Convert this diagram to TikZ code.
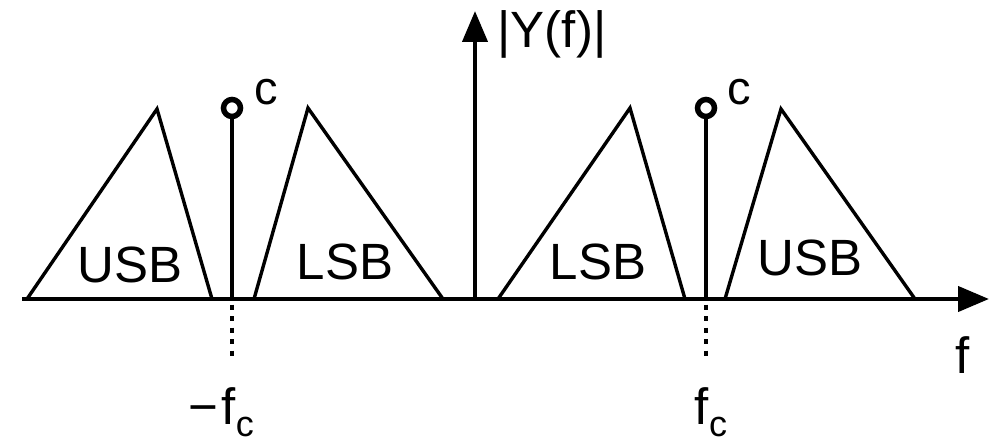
\documentclass[tikz,border=0pt]{standalone}
\usepackage{fontspec}
\setmainfont{Liberation Sans}
\usetikzlibrary{arrows.meta}
\begin{document}
\begin{tikzpicture}[x=1pt,y=-1pt,
  axis/.style={line width=4.2pt,-{Triangle[length=31pt,width=25pt]}},
  band/.style={line width=3.4pt,line join=miter},
  stem/.style={line width=4pt},
  carrier/.style={circle,draw,line width=5.5pt,minimum size=17pt,inner sep=0pt},
  dotline/.style={line width=4pt,dash pattern=on 5pt off 6.5pt},
  lbl/.style={inner sep=0pt,font=\fontsize{51}{60}\selectfont},
  clbl/.style={inner sep=0pt,font=\fontsize{47}{55}\selectfont}
]
\useasboundingbox (0,0) rectangle (989,444);
% axes
\coordinate (xs) at (22,299);
\coordinate (xe) at (989,299);
\coordinate (ys) at (475,299);
\coordinate (ye) at (475,11);
% sidebands
\coordinate (a1) at (27,299); \coordinate (a2) at (157,109); \coordinate (a3) at (212,299);
\coordinate (b1) at (254,299); \coordinate (b2) at (308,108); \coordinate (b3) at (443,299);
\coordinate (c1) at (498,299); \coordinate (c2) at (630,108); \coordinate (c3) at (685,299);
\coordinate (d1) at (725,299); \coordinate (d2) at (781,109); \coordinate (d3) at (915,299);
\draw[band] (a1) -- (a2) -- (a3);
\draw[band] (b1) -- (b2) -- (b3);
\draw[band] (c1) -- (c2) -- (c3);
\draw[band] (d1) -- (d2) -- (d3);
\node[lbl] (usbl) at (130,265) {USB};
\node[lbl] (lsbl) at (345,262) {LSB};
\node[lbl] (lsbr) at (598,262) {LSB};
\node[lbl] (usbr) at (810,258) {USB};
% carriers
\coordinate (fl) at (232,299);
\coordinate (fr) at (706,299);
\node[carrier] (cl) at (232,108) {};
\node[carrier] (cr) at (706,108) {};
\draw[stem] (fl) -- (cl.south);
\draw[stem] (fr) -- (cr.south);
\node[clbl] (cll) at (266,92) {c};
\node[clbl] (crl) at (739,92) {c};
% dotted
\coordinate (fld) at (232,360);
\coordinate (frd) at (706,360);
\draw[dotline] ([yshift=6pt]fl) -- (fld);
\draw[dotline] ([yshift=6pt]fr) -- (frd);
% axes drawn
\draw[axis] (xs) -- (xe);
\draw[axis] (ys) -- (ye);
% labels
\node[lbl] (ylab) at (552,34) {|Y(f)|};
\node[lbl] (flab) at (963,355) {f};
\node[lbl,anchor=base] (mfc) at (221,424) {−\kern4pt f{\fontsize{36}{40}\selectfont\raisebox{-0.36em}{c}}};
\node[lbl,anchor=base] (pfc) at (711,424) {f{\fontsize{36}{40}\selectfont\raisebox{-0.36em}{c}}};
\end{tikzpicture}
\end{document}
